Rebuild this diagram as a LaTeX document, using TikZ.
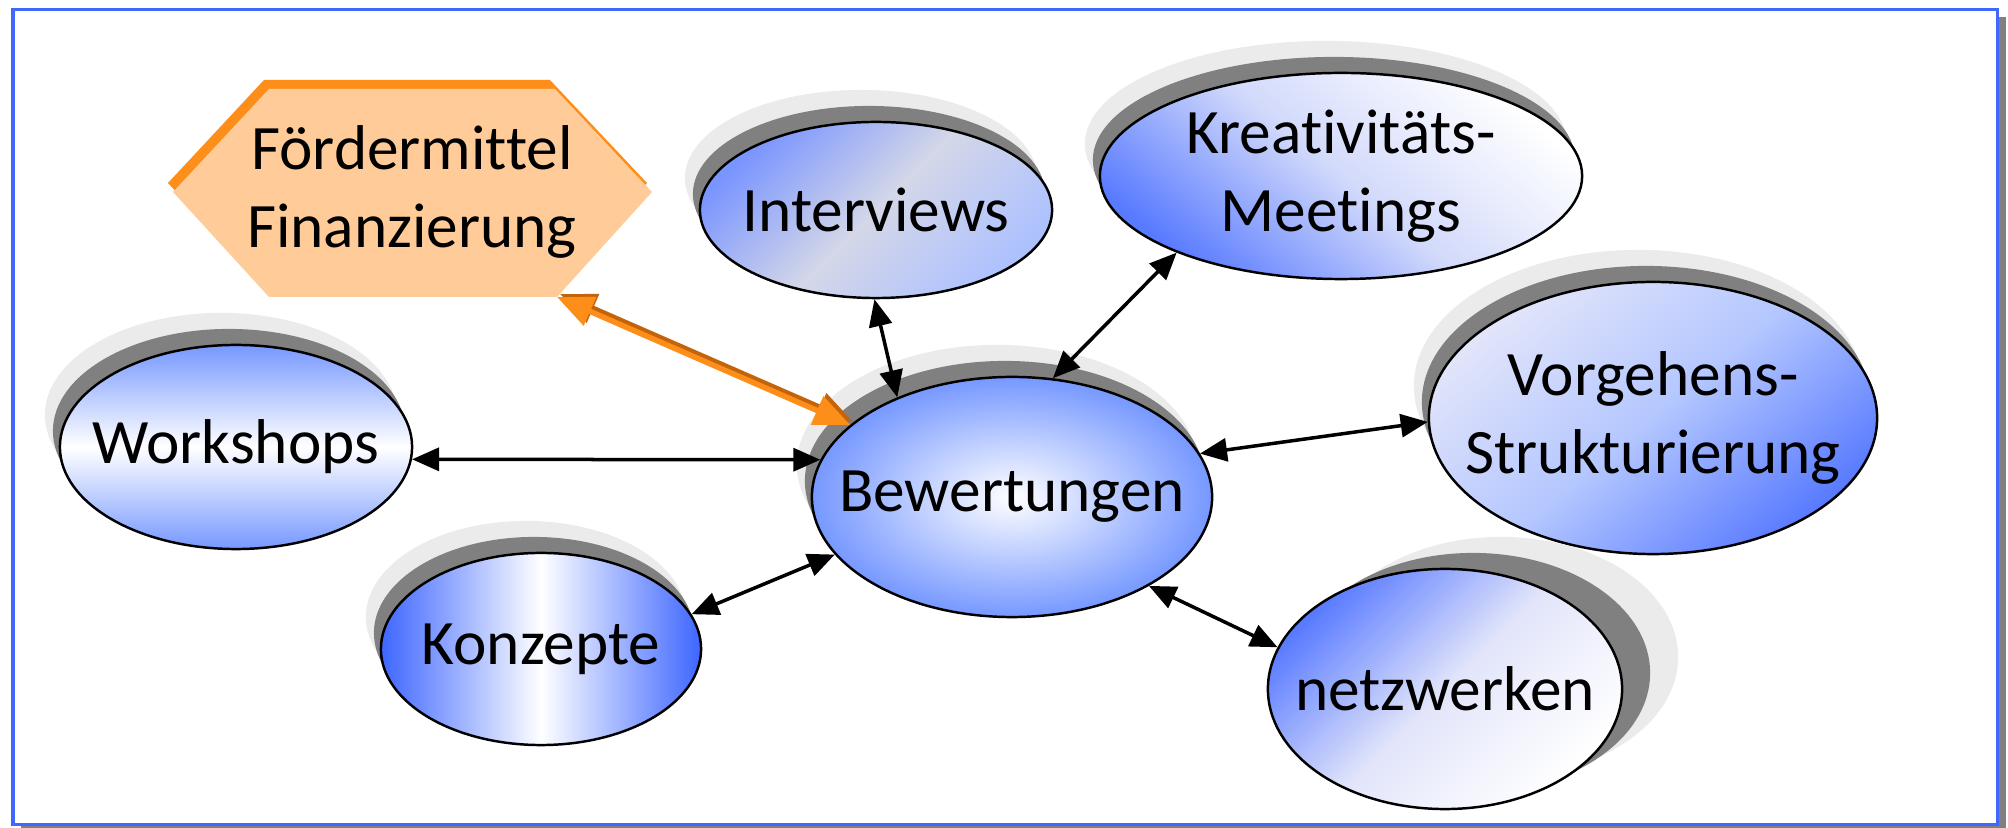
\documentclass[tikz,border=0pt]{standalone}
\usepackage{fontspec}
\setmainfont{Carlito}[Ligatures={NoCommon}]
\usetikzlibrary{arrows.meta,shapes.geometric,shadows}

\definecolor{frameblue}{RGB}{64,104,255}
\definecolor{shdark}{RGB}{128,128,128}
\definecolor{shlight}{RGB}{235,235,235}
\definecolor{fillorange}{RGB}{255,204,153}
\definecolor{lineorange}{RGB}{253,142,26}
\definecolor{darkorange}{RGB}{196,100,10}
\definecolor{softblue}{RGB}{118,152,255}
\definecolor{deepblue}{RGB}{62,102,255}
\definecolor{midblue}{RGB}{88,122,255}
\definecolor{greyblue}{RGB}{212,215,232}
\definecolor{paleblue}{RGB}{226,229,250}

\tikzset{
  bubble/.style={ellipse, draw=black, line width=0.7pt, inner sep=-1cm,
    align=center, font=\fontsize{18}{22}\selectfont},
  shadowleft/.style={
    general shadow={fill=shlight, shadow xshift=-0.15cm, shadow yshift=0.32cm},
    general shadow={fill=shdark, shadow xshift=-0.07cm, shadow yshift=0.16cm}},
  shadowright/.style={
    general shadow={fill=shlight, shadow xshift=0.56cm, shadow yshift=0.32cm},
    general shadow={fill=shdark, shadow xshift=0.28cm, shadow yshift=0.16cm}},
  link/.style={line width=0.035cm,
    {Triangle[length=0.27cm,width=0.23cm]}-{Triangle[length=0.27cm,width=0.23cm]}},
  fundlink/.style={line width=0.055cm,
    {Triangle[length=0.36cm,width=0.3cm]}-{Triangle[length=0.36cm,width=0.3cm]}}
}

\begin{document}
\begin{tikzpicture}[x=0.01cm, y=-0.01cm]
  \useasboundingbox (0,0) rectangle (2008,828);

  % frame
  \fill[shdark] (21,17) rectangle (2006,834);
  \filldraw[fill=white, draw=frameblue, line width=0.03cm] (13,10) rectangle (1997,825);

  % funding hexagon
  \fill[lineorange] (168,183) -- (264,80) -- (550,80) -- (647,183) -- (552,288) -- (264,288) -- cycle;
  \fill[fillorange] (173,192) -- (269,89) -- (555,89) -- (652,192) -- (557,297) -- (269,297) -- cycle;
  \node[font=\fontsize{18}{22}\selectfont, align=center] (fm) at (412,192) {Fördermittel\\Finanzierung};
  \coordinate (fmcorner) at (557,297);

  % bubbles
  \node[bubble, shadowleft, minimum width=4cm, minimum height=2.4cm,
    inner color=white, outer color=softblue] (bw) at (1012,497) {Bewertungen};
  \node[bubble, shadowleft, minimum width=3.52cm, minimum height=2.04cm,
    top color=softblue, bottom color=softblue, middle color=white] (ws) at (236,447) {Workshops};
  \node[bubble, shadowleft, minimum width=3.52cm, minimum height=1.76cm,
    top color=midblue!80!white, bottom color=softblue!60!white, middle color=greyblue,
    shading angle=45] (iv) at (876,210) {Interviews};
  \node[bubble, shadowleft, minimum width=4.82cm, minimum height=2.06cm,
    top color=white, bottom color=midblue, middle color=paleblue!85!softblue,
    shading angle=-40] (km) at (1341,176) {Kreativitäts-\\Meetings};
  \node[bubble, shadowleft, minimum width=4.48cm, minimum height=2.72cm,
    top color=paleblue, bottom color=midblue, middle color=softblue!55!white,
    shading angle=40] (vs) at (1653,418) {Vorgehens-\\Strukturierung};
  \node[bubble, shadowleft, minimum width=3.2cm, minimum height=1.92cm,
    left color=deepblue, right color=deepblue, middle color=white] (kz) at (541,649) {Konzepte};
  \node[bubble, shadowright, minimum width=3.54cm, minimum height=2.4cm,
    top color=midblue, bottom color=white, middle color=paleblue,
    shading angle=45] (nw) at (1445,689) {netzwerken};

  % connectors
  \draw[link] (ws.-4) -- (bw.169);
  \draw[link] (iv.-91) -- (bw.139);
  \draw[link] (km.-155) -- (bw.71);
  \draw[link] (vs.181) -- (bw.13);
  \draw[link] (kz.13) -- (bw.-162);
  \draw[link] (nw.166) -- (bw.-33);
  \draw[fundlink, darkorange, transform canvas={shift={(0.03cm,0.03cm)}}] (fmcorner) -- (bw.156);
  \draw[fundlink, lineorange] (fmcorner) -- (bw.156);
\end{tikzpicture}
\end{document}
